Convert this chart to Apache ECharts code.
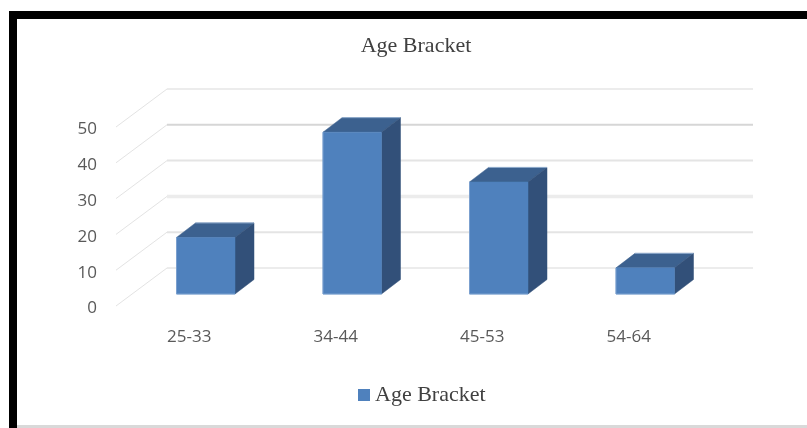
<!DOCTYPE html>
<html>
<head>
<meta charset="utf-8">
<style>html,body{margin:0;padding:0;background:#fff}#chart{width:807px;height:428px}</style>
<script src="https://cdn.jsdelivr.net/npm/echarts@6/dist/echarts.min.js"></script>
</head>
<body>
<div id="chart"></div>
<script>
const categories = ['25-33', '34-44', '45-53', '54-64'];
const shares = [15.8, 45.2, 31.3, 7.3];
const ticks = [0, 10, 20, 30, 40, 50];
const seriesName = 'Age Bracket';

// Oblique projection of the 3D plot: floor depth and column depth, in pixels.
const FLOOR_DX = 51, FLOOR_DY = -38;
const BAR_DX = 19, BAR_DY = -14.5;
const BAR_OFFSET_X = 16.5, BAR_OFFSET_Y = -12;
const BAR_WIDTH = 58.5;

const FRONT = '#4f81bd', TOP = '#3c618f', SIDE = '#325079', EDGE = '#8eaacb', FRONT_EDGE = '#7ba0cf';
const WALL_WIDTHS = [1, 2, 3.5, 2, 2, 1];
const WALL_COLORS = ['#d9d9d9', '#e4e4e4', '#ececec', '#e4e4e4', '#d6d6d6', '#d9d9d9'];

function renderWall(params, api) {
  const i = params.dataIndex;
  const front = api.coord([0, api.value(0)]);
  const rect = params.coordSys;
  const y0 = front[1];
  return {
    type: 'group',
    children: [
      { type: 'line', shape: { x1: rect.x, y1: y0, x2: rect.x + FLOOR_DX, y2: y0 + FLOOR_DY },
        style: { stroke: '#e3e3e3', lineWidth: 1 } },
      { type: 'line', shape: { x1: rect.x + FLOOR_DX, y1: y0 + FLOOR_DY, x2: rect.x + rect.width + FLOOR_DX, y2: y0 + FLOOR_DY },
        style: { stroke: WALL_COLORS[i], lineWidth: WALL_WIDTHS[i] } }
    ]
  };
}

function renderColumn(params, api) {
  const top = api.coord([api.value(0), api.value(1)]);
  const base = api.coord([api.value(0), 0]);
  const xl = top[0] - BAR_WIDTH / 2 + BAR_OFFSET_X;
  const xr = xl + BAR_WIDTH;
  const yt = top[1] + BAR_OFFSET_Y;
  const yb = base[1] + BAR_OFFSET_Y;
  const poly = (points, fill) => ({
    type: 'polygon', shape: { points },
    style: { fill, stroke: fill, lineWidth: 0.5 }
  });
  const edge = (x1, y1, x2, y2, stroke) => ({
    type: 'line', shape: { x1, y1, x2, y2 }, style: { stroke, lineWidth: 1 }
  });
  return {
    type: 'group',
    children: [
      poly([[xl, yt], [xl + BAR_DX, yt + BAR_DY], [xr + BAR_DX, yt + BAR_DY], [xr, yt]], TOP),
      poly([[xr, yt], [xr + BAR_DX, yt + BAR_DY], [xr + BAR_DX, yb + BAR_DY], [xr, yb]], SIDE),
      poly([[xl, yt], [xr, yt], [xr, yb], [xl, yb]], FRONT),
      edge(xl + BAR_DX, yt + BAR_DY, xr + BAR_DX, yt + BAR_DY, EDGE),
      edge(xl, yt, xl, yb, FRONT_EDGE),
      edge(xl, yb, xr, yb, FRONT_EDGE)
    ]
  };
}

const chart = echarts.init(document.getElementById('chart'), null, { renderer: 'canvas' });
chart.setOption({
  animation: false,
  backgroundColor: '#fff',
  title: {
    text: seriesName, left: 411, top: 30, textAlign: 'center',
    textStyle: { fontFamily: 'Liberation Serif', fontSize: 22, fontWeight: 'normal', color: '#404040' }
  },
  legend: {
    data: [{ name: seriesName, icon: 'rect' }],
    left: 353, top: 379, itemWidth: 12, itemHeight: 12, itemGap: 5,
    textStyle: { fontFamily: 'Liberation Serif', fontSize: 22, color: '#404040' }
  },
  grid: { left: 116, top: 127, width: 586, height: 179 },
  xAxis: {
    type: 'category', data: categories,
    axisLine: { show: false }, axisTick: { show: false },
    axisLabel: { margin: 23, fontFamily: 'Open Sans', fontSize: 17, color: '#595959' }
  },
  yAxis: {
    type: 'value', min: 0, max: 50, interval: 10,
    axisLine: { show: false }, axisTick: { show: false }, splitLine: { show: false },
    axisLabel: {
      margin: 19,
      formatter: '{v|{value}}',
      rich: { v: { fontFamily: 'Open Sans', fontSize: 17, color: '#595959', padding: [5, 0, 0, 0] } }
    }
  },
  series: [
    { type: 'custom', name: 'walls', coordinateSystem: 'cartesian2d', silent: true, z: 1,
      encode: { y: 0 }, data: ticks.map(t => [t]), renderItem: renderWall },
    { type: 'custom', name: seriesName, coordinateSystem: 'cartesian2d', z: 2,
      itemStyle: { color: FRONT }, encode: { x: 0, y: 1 },
      data: shares.map((v, i) => [i, v]), renderItem: renderColumn }
  ],
  graphic: [
    { type: 'rect', shape: { x: 9, y: 11, width: 798, height: 8 }, style: { fill: '#000' } },
    { type: 'rect', shape: { x: 9, y: 11, width: 8, height: 417 }, style: { fill: '#000' } },
    { type: 'rect', shape: { x: 17, y: 425, width: 790, height: 3 }, style: { fill: '#d9d9d9' } }
  ]
});
</script>
</body>
</html>
